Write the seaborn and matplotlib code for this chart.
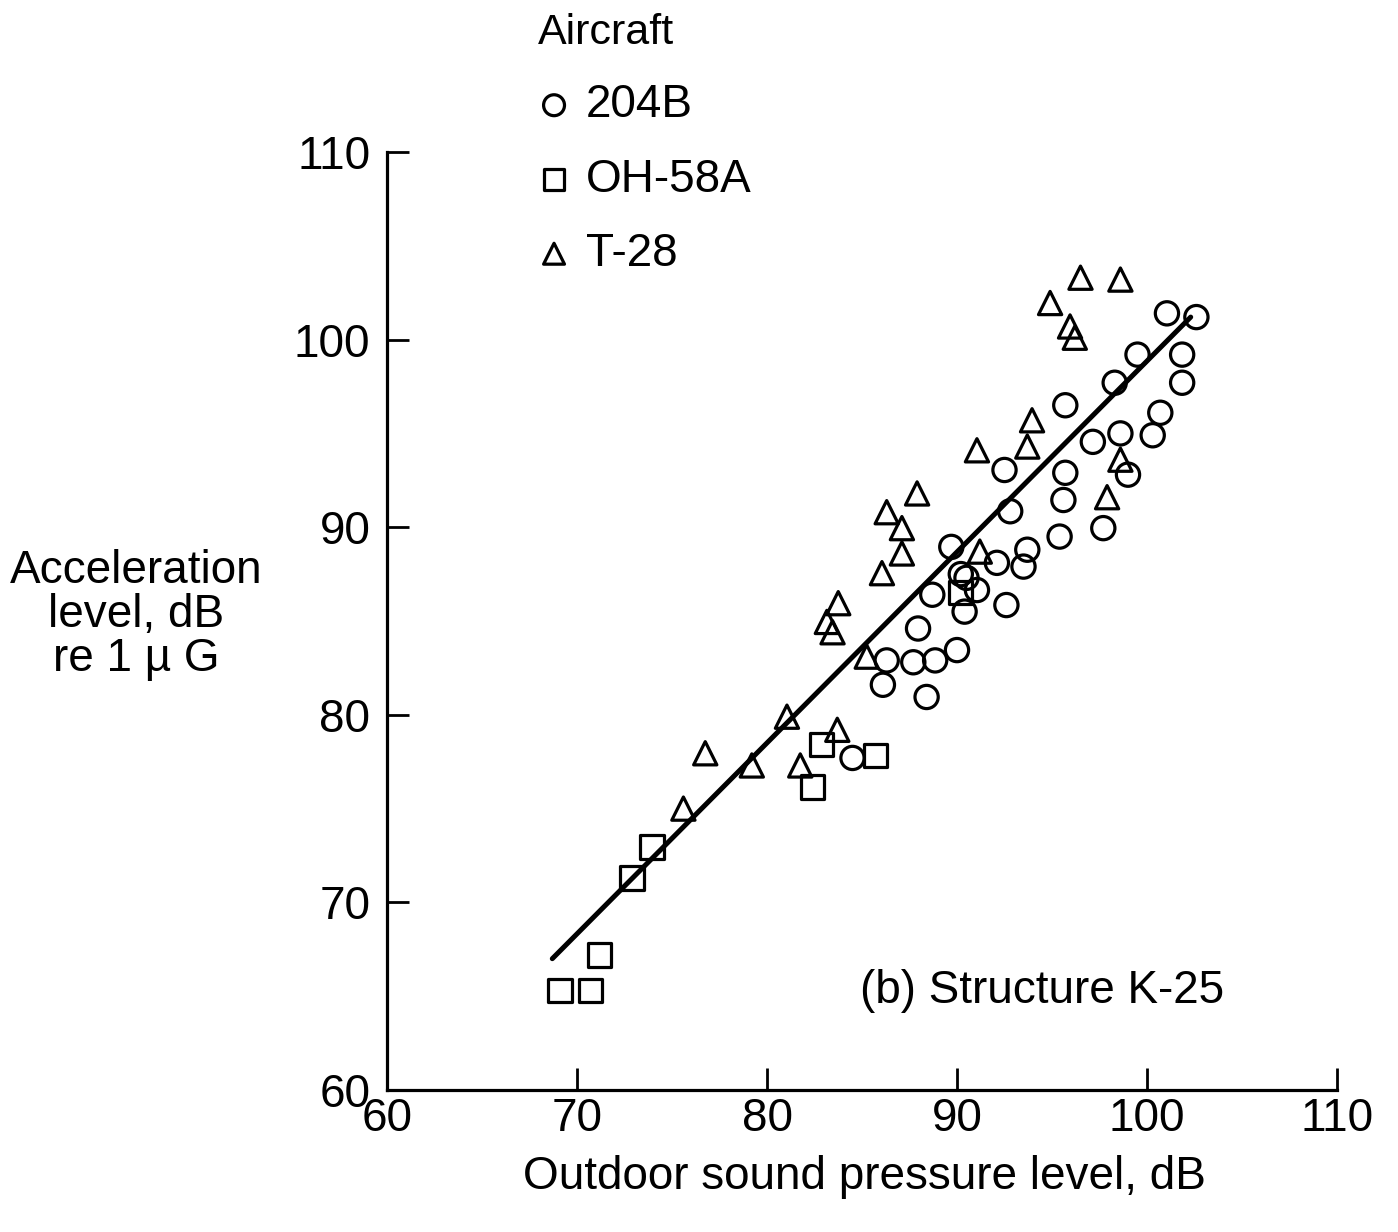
import numpy as np
import pandas as pd
import matplotlib
matplotlib.use('Agg')
import matplotlib.pyplot as plt
import seaborn as sns

# data
aircraft = ['204B', 'OH-58A', 'T-28']

x_204b = [84.5, 86.1, 86.3, 87.7, 87.95, 88.4, 88.7, 88.85, 89.7, 90.0, 90.2, 90.4,
          90.5, 91.05, 92.1, 92.5, 92.6, 92.8, 93.5, 93.7, 95.4, 95.6, 95.7, 95.7,
          97.15, 97.7, 98.3, 98.6, 99.0, 99.5, 100.3, 100.7, 101.05, 101.85, 101.85, 102.6]
y_204b = [77.7, 81.6, 82.9, 82.8, 84.6, 80.95, 86.4, 82.9, 88.95, 83.45, 87.5, 85.5,
          87.3, 86.65, 88.1, 93.05, 85.85, 90.85, 87.9, 88.8, 89.5, 91.45, 92.9, 96.5,
          94.55, 89.95, 97.7, 95.0, 92.8, 99.2, 94.9, 96.1, 101.4, 99.2, 97.7, 101.2]

x_oh58a = [69.1, 70.7, 71.2, 72.9, 73.95, 82.4, 82.85, 85.7, 90.2]
y_oh58a = [65.3, 65.3, 67.2, 71.3, 72.95, 76.15, 78.4, 77.85, 86.5]

x_t28 = [75.6, 76.75, 79.2, 81.05, 81.75, 83.15, 83.45, 83.7, 83.75, 85.25, 86.05,
         86.3, 87.1, 87.1, 87.9, 91.05, 91.2, 93.7, 93.95, 94.9, 95.95, 96.2, 96.5,
         97.9, 98.6, 98.6]
y_t28 = [75.0, 77.95, 77.3, 79.9, 77.3, 84.95, 84.4, 79.2, 85.95, 83.1, 87.55,
         90.8, 89.95, 88.6, 91.8, 94.1, 88.7, 94.3, 95.7, 101.95, 100.7, 100.1, 103.3,
         91.6, 93.6, 103.2]

# regression line end points
fit_x = [68.7, 102.3]
fit_y = [67.0, 101.2]

df = pd.DataFrame({
    'spl': x_204b + x_oh58a + x_t28,
    'acc': y_204b + y_oh58a + y_t28,
    'Aircraft': ['204B'] * len(x_204b) + ['OH-58A'] * len(x_oh58a) + ['T-28'] * len(x_t28),
})

sns.set_style('ticks')
plt.rcParams['font.family'] = ['Liberation Sans', 'DejaVu Sans']
plt.rcParams['text.color'] = 'black'
plt.rcParams['xtick.color'] = 'black'
plt.rcParams['ytick.color'] = 'black'
plt.rcParams['axes.labelcolor'] = 'black'
plt.rcParams['axes.edgecolor'] = 'black'
fs = 33

fig = plt.figure(figsize=(13.98, 12.32), dpi=100)
ax = fig.add_axes([387 / 1398, 1 - 1090 / 1232, 950 / 1398, 938 / 1232])

sns.lineplot(x=fit_x, y=fit_y, color='black', linewidth=3.6, ax=ax)

markers = {'204B': 'o', 'OH-58A': 's', 'T-28': '^'}
for name in aircraft:
    sub = df[df['Aircraft'] == name]
    sns.scatterplot(data=sub, x='spl', y='acc', marker=markers[name], s=280,
                    facecolor='none', edgecolor='black', linewidth=2.3,
                    label=name, ax=ax, zorder=3)

ax.set_xlim(60, 110)
ax.set_ylim(60, 110)
ax.set_xticks(np.arange(60, 111, 10))
ax.set_yticks(np.arange(60, 111, 10))
ax.tick_params(direction='in', length=16, width=2, labelsize=fs)
ax.tick_params(axis='x', pad=5)
ax.tick_params(axis='y', pad=12)
sns.despine(ax=ax)
for sp in ['left', 'bottom']:
    ax.spines[sp].set_linewidth(2.3)

ax.set_xlabel('Outdoor sound pressure level, dB', fontsize=fs, va='center')
ax.xaxis.set_label_coords(0.503, -0.093)
ax.set_ylabel('Acceleration\nlevel, dB\nre 1 \u00b5 G', fontsize=fs, rotation=0,
              ha='center', va='center', linespacing=1.0)
ax.yaxis.set_label_coords(-0.264, 0.506)

ax.text(84.9, 65.3, '(b) Structure K-25', fontsize=fs, va='center', ha='left')

leg = ax.legend(title='Aircraft', loc='upper left', frameon=False, fontsize=fs,
                title_fontsize=31, alignment='left', markerscale=0.9,
                handlelength=0.7, handletextpad=0.35, labelspacing=0.66,
                borderpad=0, borderaxespad=0,
                bbox_to_anchor=(538 / 1398, 1 - 13 / 1232), bbox_transform=fig.transFigure)

fig.savefig('out.png', dpi=100)
